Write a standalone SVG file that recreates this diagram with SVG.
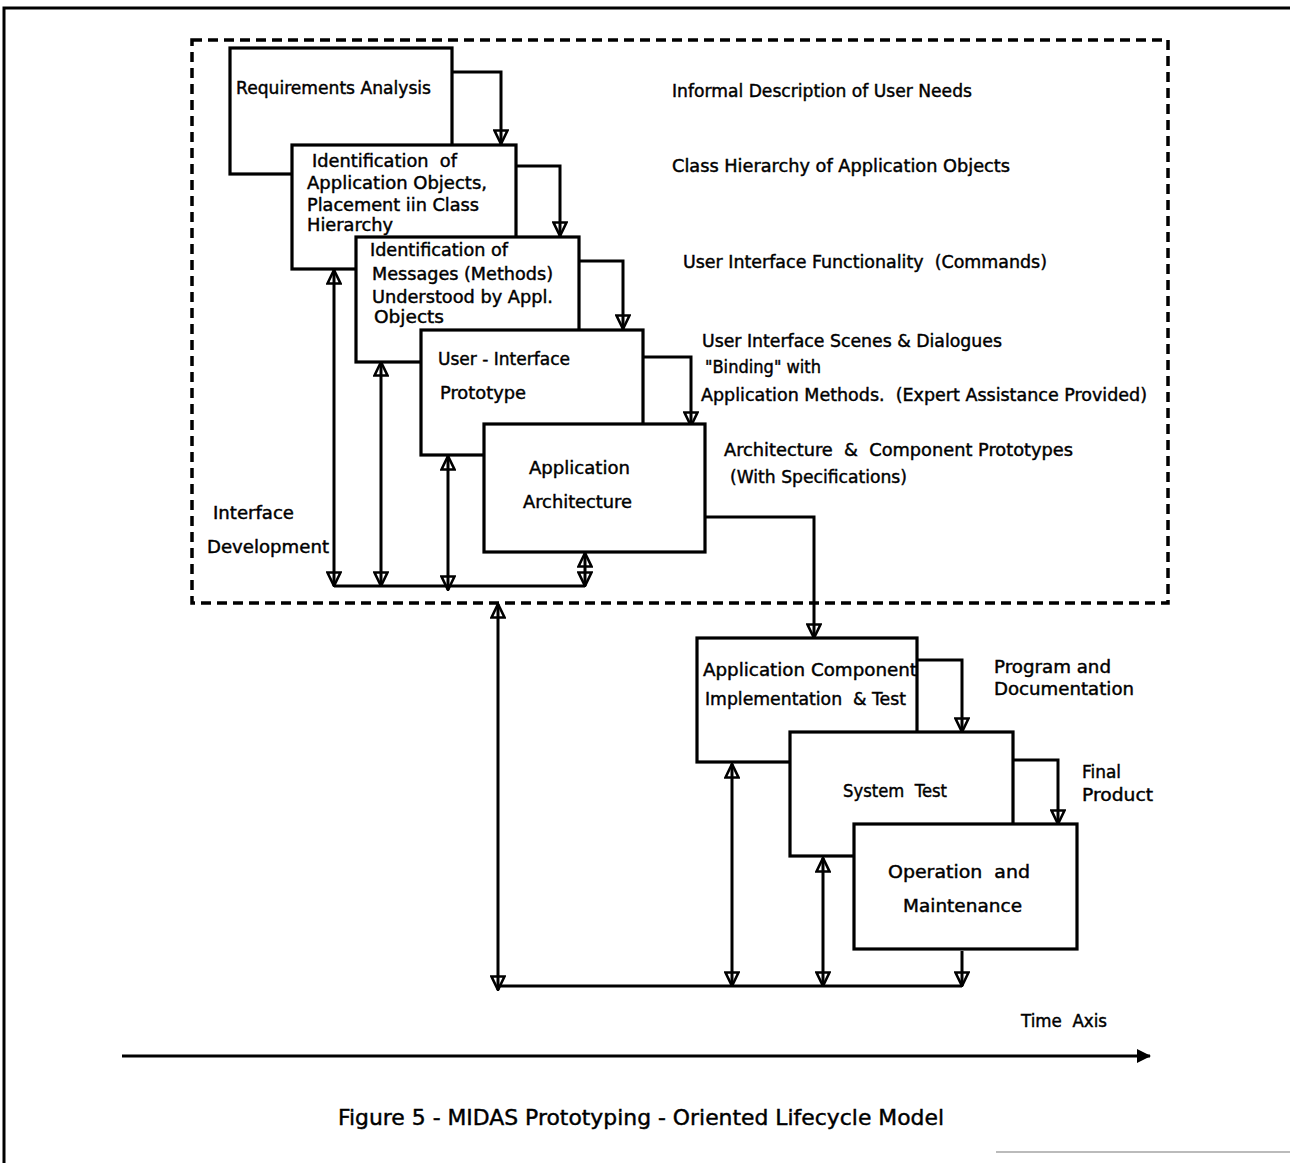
<svg xmlns="http://www.w3.org/2000/svg" width="1290" height="1163" viewBox="0 0 1290 1163">
<style>
text{font-family:"DejaVu Sans","Liberation Sans",sans-serif;font-size:18px;fill:#000;stroke:#000;stroke-width:0.45}
.cap{font-size:22px}
.box{fill:#fff;stroke:#000;stroke-width:3.2}
.con{fill:none;stroke:#000;stroke-width:3}
</style>
<defs>
<marker id="ah" viewBox="0 0 16 16" refX="15" refY="8" markerWidth="16" markerHeight="16" markerUnits="userSpaceOnUse" orient="auto-start-reverse">
<path d="M1.5,1.5 L15,8 L1.5,14.5 Z" fill="none" stroke="#000" stroke-width="2.6"/>
</marker>
<marker id="fh" viewBox="0 0 14 14" refX="13" refY="7" markerWidth="14" markerHeight="14" markerUnits="userSpaceOnUse" orient="auto">
<path d="M0,0 L14,7 L0,14 Z" fill="#000"/>
</marker>
</defs>
<rect width="1290" height="1163" fill="#fff"/>
<g id="frame">
<path d="M4,1163 V8 H1290" fill="none" stroke="#000" stroke-width="3"/>
<line x1="996" y1="1152" x2="1290" y2="1152" stroke="#bbb" stroke-width="2"/>
</g>
<g id="interface-development-region">
<rect x="192" y="40" width="976" height="563" fill="none" stroke="#000" stroke-width="3.5" stroke-dasharray="10,6"/>
</g>
<g id="connectors">
<polyline class="con" points="452,72 501,72 501,144" marker-end="url(#ah)"/>
<polyline class="con" points="516,166 560,166 560,236" marker-end="url(#ah)"/>
<polyline class="con" points="579,261 623,261 623,329" marker-end="url(#ah)"/>
<polyline class="con" points="643,357 691,357 691,426" marker-end="url(#ah)"/>
<polyline class="con" points="705,517 814,517 814,638" marker-end="url(#ah)"/>
<polyline class="con" points="917,660 962,660 962,732" marker-end="url(#ah)"/>
<polyline class="con" points="1013,760 1058,760 1058,824" marker-end="url(#ah)"/>
<line class="con" x1="962" y1="951" x2="962" y2="986" marker-end="url(#ah)"/>
<line class="con" x1="334" y1="586" x2="585" y2="586"/>
<line class="con" x1="334" y1="270" x2="334" y2="586" marker-start="url(#ah)" marker-end="url(#ah)"/>
<line class="con" x1="381" y1="362" x2="381" y2="586" marker-start="url(#ah)" marker-end="url(#ah)"/>
<line class="con" x1="448" y1="456" x2="448" y2="590" marker-start="url(#ah)" marker-end="url(#ah)"/>
<line class="con" x1="585" y1="553" x2="585" y2="586" marker-start="url(#ah)" marker-end="url(#ah)"/>
<line class="con" x1="498" y1="986" x2="962" y2="986"/>
<line class="con" x1="498" y1="604" x2="498" y2="990" marker-start="url(#ah)" marker-end="url(#ah)"/>
<line class="con" x1="732" y1="764" x2="732" y2="986" marker-start="url(#ah)" marker-end="url(#ah)"/>
<line class="con" x1="823" y1="858" x2="823" y2="986" marker-start="url(#ah)" marker-end="url(#ah)"/>
<line x1="122" y1="1056" x2="1150" y2="1056" stroke="#000" stroke-width="3.2" marker-end="url(#fh)"/>
</g>
<g id="requirements-analysis">
<rect class="box" x="230" y="48" width="222" height="126"/>
<text x="236" y="94" textLength="195" lengthAdjust="spacingAndGlyphs">Requirements Analysis</text>
</g>
<g id="identification-objects">
<rect class="box" x="292" y="145" width="224" height="124"/>
<text x="312" y="167" textLength="145" lengthAdjust="spacingAndGlyphs" xml:space="preserve">Identification  of</text>
<text x="307" y="189" textLength="180" lengthAdjust="spacingAndGlyphs">Application Objects,</text>
<text x="307" y="211" textLength="172" lengthAdjust="spacingAndGlyphs">Placement iin Class</text>
<text x="307" y="231" textLength="86" lengthAdjust="spacingAndGlyphs">Hierarchy</text>
</g>
<g id="identification-messages">
<rect class="box" x="356" y="237" width="223" height="125"/>
<text x="370" y="256" textLength="138" lengthAdjust="spacingAndGlyphs">Identification of</text>
<text x="372" y="280" textLength="181" lengthAdjust="spacingAndGlyphs">Messages (Methods)</text>
<text x="372" y="303" textLength="181" lengthAdjust="spacingAndGlyphs">Understood by Appl.</text>
<text x="374" y="323" textLength="70" lengthAdjust="spacingAndGlyphs">Objects</text>
</g>
<g id="ui-prototype">
<rect class="box" x="421" y="330" width="222" height="125"/>
<text x="438" y="365" textLength="132" lengthAdjust="spacingAndGlyphs">User - Interface</text>
<text x="440" y="399" textLength="86" lengthAdjust="spacingAndGlyphs">Prototype</text>
</g>
<g id="application-architecture">
<rect class="box" x="484" y="424" width="221" height="128"/>
<text x="529" y="474" textLength="101" lengthAdjust="spacingAndGlyphs">Application</text>
<text x="523" y="508" textLength="109" lengthAdjust="spacingAndGlyphs">Architecture</text>
</g>
<g id="component-implementation">
<rect class="box" x="697" y="638" width="220" height="124"/>
<text x="703" y="676" textLength="214" lengthAdjust="spacingAndGlyphs">Application Component</text>
<text x="705" y="705" textLength="201" lengthAdjust="spacingAndGlyphs" xml:space="preserve">Implementation  &amp; Test</text>
</g>
<g id="system-test">
<rect class="box" x="790" y="732" width="223" height="124"/>
<text x="843" y="797" textLength="104" lengthAdjust="spacingAndGlyphs" xml:space="preserve">System  Test</text>
</g>
<g id="operation-maintenance">
<rect class="box" x="854" y="824" width="223" height="125"/>
<text x="888" y="878" textLength="142" lengthAdjust="spacingAndGlyphs" xml:space="preserve">Operation  and</text>
<text x="903" y="912" textLength="119" lengthAdjust="spacingAndGlyphs">Maintenance</text>
</g>
<g id="labels">
<text x="672" y="97" textLength="300" lengthAdjust="spacingAndGlyphs">Informal Description of User Needs</text>
<text x="672" y="172" textLength="338" lengthAdjust="spacingAndGlyphs">Class Hierarchy of Application Objects</text>
<text x="683" y="268" textLength="364" lengthAdjust="spacingAndGlyphs" xml:space="preserve">User Interface Functionality  (Commands)</text>
<text x="702" y="347" textLength="300" lengthAdjust="spacingAndGlyphs">User Interface Scenes &amp; Dialogues</text>
<text x="705" y="373" textLength="116" lengthAdjust="spacingAndGlyphs">"Binding" with</text>
<text x="701" y="401" textLength="446" lengthAdjust="spacingAndGlyphs" xml:space="preserve">Application Methods.  (Expert Assistance Provided)</text>
<text x="724" y="456" textLength="349" lengthAdjust="spacingAndGlyphs" xml:space="preserve">Architecture  &amp;  Component Prototypes</text>
<text x="730" y="483" textLength="177" lengthAdjust="spacingAndGlyphs">(With Specifications)</text>
<text x="213" y="519" textLength="81" lengthAdjust="spacingAndGlyphs">Interface</text>
<text x="207" y="553" textLength="122" lengthAdjust="spacingAndGlyphs">Development</text>
<text x="994" y="673" textLength="117" lengthAdjust="spacingAndGlyphs">Program and</text>
<text x="994" y="695" textLength="140" lengthAdjust="spacingAndGlyphs">Documentation</text>
<text x="1082" y="778" textLength="39" lengthAdjust="spacingAndGlyphs">Final</text>
<text x="1082" y="801" textLength="71" lengthAdjust="spacingAndGlyphs">Product</text>
<text x="1021" y="1027" textLength="86" lengthAdjust="spacingAndGlyphs" xml:space="preserve">Time  Axis</text>
<text class="cap" x="338" y="1125" textLength="606" lengthAdjust="spacingAndGlyphs">Figure 5 - MIDAS Prototyping - Oriented Lifecycle Model</text>
</g>
</svg>
